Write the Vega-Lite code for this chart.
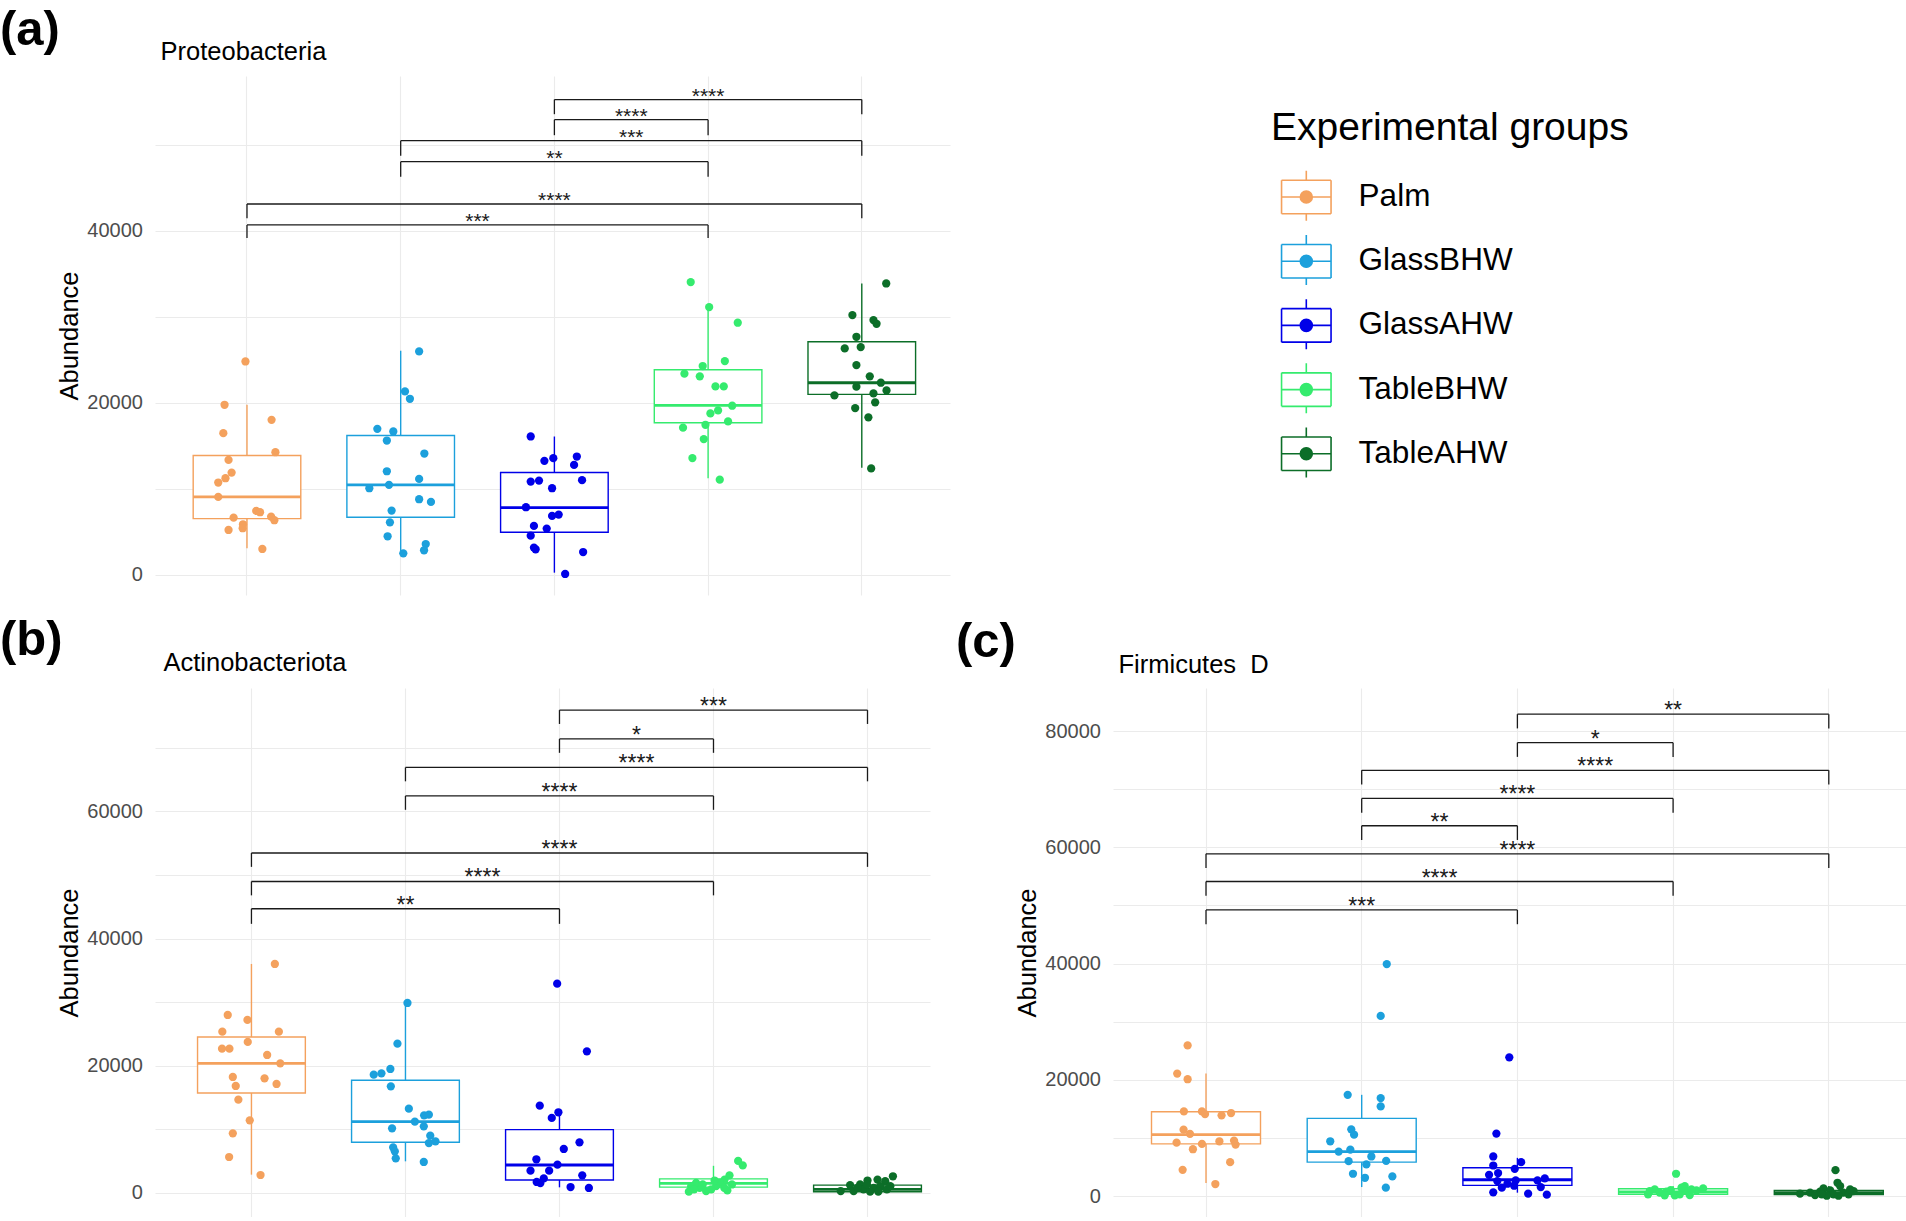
{
  "$schema": "https://vega.github.io/schema/vega-lite/v6.json",
  "background": "white",
  "padding": {"left": 0, "top": 5, "right": 0, "bottom": 0},
  "config": {
    "font": "Liberation Sans",
    "view": {"stroke": null},
    "axis": {"grid": true, "gridColor": "#EBEBEB", "gridWidth": 1.1, "domain": false, "ticks": false},
    "axisX": {"labels": false, "bandPosition": 0.5, "titleAnchor": "start", "titleAlign": "left", "titleBaseline": "alphabetic", "titleFontSize": 25.5, "titleFontWeight": "normal", "titleColor": "#000000"},
    "axisY": {"labelFontSize": 20, "labelColor": "#4D4D4D", "labelPadding": 12.6, "titleFontSize": 25.5, "titleFontWeight": "normal", "titleColor": "#000000", "titlePadding": 9, "titleBaseline": "alphabetic"},
    "title": {"anchor": "start", "frame": "group", "fontSize": 49, "fontWeight": "bold", "color": "#000000", "baseline": "alphabetic", "offset": -15}
  },
  "datasets": {
    "boxA": [
      {"group": "Palm", "lo": 3100, "q1": 6550, "med": 9070, "q3": 13876, "hi": 19768},
      {"group": "GlassBHW", "lo": 2519, "q1": 6705, "med": 10465, "q3": 16202, "hi": 26047},
      {"group": "GlassAHW", "lo": 271, "q1": 4961, "med": 7830, "q3": 11900, "hi": 16085},
      {"group": "TableBHW", "lo": 11223, "q1": 17686, "med": 19698, "q3": 23839, "hi": 31154},
      {"group": "TableAHW", "lo": 12461, "q1": 20975, "med": 22330, "q3": 27090, "hi": 33863}
    ],
    "boxB": [
      {"group": "Palm", "lo": 2883, "q1": 15726, "med": 20392, "q3": 24533, "hi": 36013},
      {"group": "GlassBHW", "lo": 4980, "q1": 7968, "med": 11218, "q3": 17718, "hi": 29879},
      {"group": "GlassAHW", "lo": 891, "q1": 2044, "med": 4403, "q3": 9960, "hi": 13210},
      {"group": "TableBHW", "lo": 100, "q1": 927, "med": 1500, "q3": 2215, "hi": 4275},
      {"group": "TableAHW", "lo": 100, "q1": 206, "med": 566, "q3": 1236, "hi": 2369}
    ],
    "boxC": [
      {"group": "Palm", "lo": 2227, "q1": 8965, "med": 10564, "q3": 14503, "hi": 21070},
      {"group": "GlassBHW", "lo": 1542, "q1": 5824, "med": 7651, "q3": 13361, "hi": 17416},
      {"group": "GlassAHW", "lo": 571, "q1": 1827, "med": 2798, "q3": 4854, "hi": 6567},
      {"group": "TableBHW", "lo": 0, "q1": 300, "med": 700, "q3": 1256, "hi": 1713},
      {"group": "TableAHW", "lo": 50, "q1": 250, "med": 571, "q3": 971, "hi": 1713}
    ],
    "ptsA": [
      {"group": "Palm", "abundance": 24800, "jitter": -0.01},
      {"group": "Palm", "abundance": 19770, "jitter": -0.146},
      {"group": "Palm", "abundance": 18020, "jitter": 0.16},
      {"group": "Palm", "abundance": 16470, "jitter": -0.154},
      {"group": "Palm", "abundance": 14260, "jitter": 0.185},
      {"group": "Palm", "abundance": 13370, "jitter": -0.12},
      {"group": "Palm", "abundance": 11900, "jitter": -0.1},
      {"group": "Palm", "abundance": 11240, "jitter": -0.14},
      {"group": "Palm", "abundance": 10740, "jitter": -0.187},
      {"group": "Palm", "abundance": 9070, "jitter": -0.187},
      {"group": "Palm", "abundance": 7440, "jitter": 0.06},
      {"group": "Palm", "abundance": 7290, "jitter": 0.085},
      {"group": "Palm", "abundance": 6670, "jitter": -0.087},
      {"group": "Palm", "abundance": 6780, "jitter": 0.157},
      {"group": "Palm", "abundance": 6360, "jitter": 0.178},
      {"group": "Palm", "abundance": 5890, "jitter": -0.026},
      {"group": "Palm", "abundance": 5430, "jitter": -0.028},
      {"group": "Palm", "abundance": 5230, "jitter": -0.12},
      {"group": "Palm", "abundance": 3020, "jitter": 0.1},
      {"group": "GlassBHW", "abundance": 25970, "jitter": 0.12},
      {"group": "GlassBHW", "abundance": 21320, "jitter": 0.028},
      {"group": "GlassBHW", "abundance": 20470, "jitter": 0.06},
      {"group": "GlassBHW", "abundance": 16980, "jitter": -0.152},
      {"group": "GlassBHW", "abundance": 16670, "jitter": -0.048},
      {"group": "GlassBHW", "abundance": 15620, "jitter": -0.09},
      {"group": "GlassBHW", "abundance": 14110, "jitter": 0.154},
      {"group": "GlassBHW", "abundance": 12050, "jitter": -0.09},
      {"group": "GlassBHW", "abundance": 11160, "jitter": 0.12},
      {"group": "GlassBHW", "abundance": 10470, "jitter": -0.076},
      {"group": "GlassBHW", "abundance": 10080, "jitter": -0.204},
      {"group": "GlassBHW", "abundance": 8800, "jitter": 0.12},
      {"group": "GlassBHW", "abundance": 8490, "jitter": 0.197},
      {"group": "GlassBHW", "abundance": 7480, "jitter": -0.059},
      {"group": "GlassBHW", "abundance": 6120, "jitter": -0.07},
      {"group": "GlassBHW", "abundance": 4500, "jitter": -0.085},
      {"group": "GlassBHW", "abundance": 3600, "jitter": 0.163},
      {"group": "GlassBHW", "abundance": 2870, "jitter": 0.152},
      {"group": "GlassBHW", "abundance": 2520, "jitter": 0.017},
      {"group": "GlassAHW", "abundance": 16090, "jitter": -0.154},
      {"group": "GlassAHW", "abundance": 13260, "jitter": -0.065},
      {"group": "GlassAHW", "abundance": 13570, "jitter": -0.007},
      {"group": "GlassAHW", "abundance": 13760, "jitter": 0.146},
      {"group": "GlassAHW", "abundance": 12790, "jitter": 0.128},
      {"group": "GlassAHW", "abundance": 10850, "jitter": -0.154},
      {"group": "GlassAHW", "abundance": 10970, "jitter": -0.1},
      {"group": "GlassAHW", "abundance": 11010, "jitter": 0.18},
      {"group": "GlassAHW", "abundance": 10080, "jitter": -0.015},
      {"group": "GlassAHW", "abundance": 7870, "jitter": -0.185},
      {"group": "GlassAHW", "abundance": 6860, "jitter": -0.015},
      {"group": "GlassAHW", "abundance": 7020, "jitter": 0.028},
      {"group": "GlassAHW", "abundance": 5700, "jitter": -0.133},
      {"group": "GlassAHW", "abundance": 5390, "jitter": -0.05},
      {"group": "GlassAHW", "abundance": 4570, "jitter": -0.154},
      {"group": "GlassAHW", "abundance": 3180, "jitter": -0.133},
      {"group": "GlassAHW", "abundance": 2990, "jitter": -0.122},
      {"group": "GlassAHW", "abundance": 2670, "jitter": 0.187},
      {"group": "GlassAHW", "abundance": 120, "jitter": 0.07},
      {"group": "TableBHW", "abundance": 34020, "jitter": -0.113},
      {"group": "TableBHW", "abundance": 31120, "jitter": 0.007},
      {"group": "TableBHW", "abundance": 29300, "jitter": 0.193},
      {"group": "TableBHW", "abundance": 24850, "jitter": 0.109},
      {"group": "TableBHW", "abundance": 24270, "jitter": -0.035},
      {"group": "TableBHW", "abundance": 23380, "jitter": -0.154},
      {"group": "TableBHW", "abundance": 23070, "jitter": -0.054},
      {"group": "TableBHW", "abundance": 21900, "jitter": 0.048},
      {"group": "TableBHW", "abundance": 21900, "jitter": 0.102},
      {"group": "TableBHW", "abundance": 19660, "jitter": 0.157},
      {"group": "TableBHW", "abundance": 19120, "jitter": 0.065},
      {"group": "TableBHW", "abundance": 18770, "jitter": 0.015},
      {"group": "TableBHW", "abundance": 17840, "jitter": 0.13},
      {"group": "TableBHW", "abundance": 17450, "jitter": -0.017},
      {"group": "TableBHW", "abundance": 17110, "jitter": -0.163},
      {"group": "TableBHW", "abundance": 15790, "jitter": -0.028},
      {"group": "TableBHW", "abundance": 13580, "jitter": -0.102},
      {"group": "TableBHW", "abundance": 11070, "jitter": 0.076},
      {"group": "TableAHW", "abundance": 33860, "jitter": 0.159},
      {"group": "TableAHW", "abundance": 30190, "jitter": -0.061},
      {"group": "TableAHW", "abundance": 29610, "jitter": 0.076},
      {"group": "TableAHW", "abundance": 29180, "jitter": 0.096},
      {"group": "TableAHW", "abundance": 27670, "jitter": -0.035},
      {"group": "TableAHW", "abundance": 26320, "jitter": -0.111},
      {"group": "TableAHW", "abundance": 26470, "jitter": -0.007},
      {"group": "TableAHW", "abundance": 24380, "jitter": -0.035},
      {"group": "TableAHW", "abundance": 23070, "jitter": 0.052},
      {"group": "TableAHW", "abundance": 22330, "jitter": 0.124},
      {"group": "TableAHW", "abundance": 21870, "jitter": -0.035},
      {"group": "TableAHW", "abundance": 21440, "jitter": 0.161},
      {"group": "TableAHW", "abundance": 21090, "jitter": 0.076},
      {"group": "TableAHW", "abundance": 20860, "jitter": -0.178},
      {"group": "TableAHW", "abundance": 20050, "jitter": 0.087},
      {"group": "TableAHW", "abundance": 19390, "jitter": -0.043},
      {"group": "TableAHW", "abundance": 18310, "jitter": 0.043},
      {"group": "TableAHW", "abundance": 12380, "jitter": 0.061}
    ],
    "ptsB": [
      {"group": "Palm", "abundance": 36010, "jitter": 0.152},
      {"group": "Palm", "abundance": 27990, "jitter": -0.154},
      {"group": "Palm", "abundance": 27210, "jitter": -0.026},
      {"group": "Palm", "abundance": 25370, "jitter": -0.189},
      {"group": "Palm", "abundance": 25370, "jitter": 0.178},
      {"group": "Palm", "abundance": 23750, "jitter": -0.024},
      {"group": "Palm", "abundance": 22700, "jitter": -0.191},
      {"group": "Palm", "abundance": 22700, "jitter": -0.143},
      {"group": "Palm", "abundance": 21700, "jitter": 0.102},
      {"group": "Palm", "abundance": 20390, "jitter": 0.187},
      {"group": "Palm", "abundance": 18240, "jitter": -0.121},
      {"group": "Palm", "abundance": 18030, "jitter": 0.085},
      {"group": "Palm", "abundance": 16830, "jitter": -0.102},
      {"group": "Palm", "abundance": 17140, "jitter": 0.163},
      {"group": "Palm", "abundance": 14680, "jitter": -0.085},
      {"group": "Palm", "abundance": 11430, "jitter": -0.011},
      {"group": "Palm", "abundance": 9380, "jitter": -0.121},
      {"group": "Palm", "abundance": 5660, "jitter": -0.145},
      {"group": "Palm", "abundance": 2830, "jitter": 0.059},
      {"group": "GlassBHW", "abundance": 29880, "jitter": 0.013},
      {"group": "GlassBHW", "abundance": 23480, "jitter": -0.052},
      {"group": "GlassBHW", "abundance": 19500, "jitter": -0.098},
      {"group": "GlassBHW", "abundance": 18610, "jitter": -0.206},
      {"group": "GlassBHW", "abundance": 18820, "jitter": -0.156},
      {"group": "GlassBHW", "abundance": 16770, "jitter": -0.095},
      {"group": "GlassBHW", "abundance": 13260, "jitter": 0.022},
      {"group": "GlassBHW", "abundance": 12210, "jitter": 0.121},
      {"group": "GlassBHW", "abundance": 12320, "jitter": 0.152},
      {"group": "GlassBHW", "abundance": 11220, "jitter": 0.061},
      {"group": "GlassBHW", "abundance": 10480, "jitter": 0.119},
      {"group": "GlassBHW", "abundance": 10170, "jitter": -0.087},
      {"group": "GlassBHW", "abundance": 9020, "jitter": 0.161},
      {"group": "GlassBHW", "abundance": 7860, "jitter": 0.152},
      {"group": "GlassBHW", "abundance": 8130, "jitter": 0.195},
      {"group": "GlassBHW", "abundance": 7180, "jitter": -0.08},
      {"group": "GlassBHW", "abundance": 6550, "jitter": -0.069},
      {"group": "GlassBHW", "abundance": 5450, "jitter": -0.063},
      {"group": "GlassBHW", "abundance": 4880, "jitter": 0.119},
      {"group": "GlassAHW", "abundance": 32920, "jitter": -0.015},
      {"group": "GlassAHW", "abundance": 22280, "jitter": 0.178},
      {"group": "GlassAHW", "abundance": 13730, "jitter": -0.128},
      {"group": "GlassAHW", "abundance": 12690, "jitter": -0.007},
      {"group": "GlassAHW", "abundance": 11800, "jitter": -0.05},
      {"group": "GlassAHW", "abundance": 7970, "jitter": 0.13},
      {"group": "GlassAHW", "abundance": 6920, "jitter": 0.028},
      {"group": "GlassAHW", "abundance": 5300, "jitter": -0.15},
      {"group": "GlassAHW", "abundance": 4460, "jitter": -0.013},
      {"group": "GlassAHW", "abundance": 3510, "jitter": -0.188},
      {"group": "GlassAHW", "abundance": 3510, "jitter": -0.067},
      {"group": "GlassAHW", "abundance": 2780, "jitter": 0.148},
      {"group": "GlassAHW", "abundance": 2310, "jitter": -0.102},
      {"group": "GlassAHW", "abundance": 1730, "jitter": -0.148},
      {"group": "GlassAHW", "abundance": 1570, "jitter": -0.124},
      {"group": "GlassAHW", "abundance": 940, "jitter": 0.072},
      {"group": "GlassAHW", "abundance": 790, "jitter": 0.191},
      {"group": "TableBHW", "abundance": 5050, "jitter": 0.16},
      {"group": "TableBHW", "abundance": 4330, "jitter": 0.19},
      {"group": "TableBHW", "abundance": 2780, "jitter": 0.104},
      {"group": "TableBHW", "abundance": 2110, "jitter": 0.072},
      {"group": "TableBHW", "abundance": 1600, "jitter": 0.04},
      {"group": "TableBHW", "abundance": 1080, "jitter": 0.017},
      {"group": "TableBHW", "abundance": 570, "jitter": -0.015},
      {"group": "TableBHW", "abundance": 310, "jitter": -0.048},
      {"group": "TableBHW", "abundance": 820, "jitter": -0.09},
      {"group": "TableBHW", "abundance": 1600, "jitter": -0.113},
      {"group": "TableBHW", "abundance": 1080, "jitter": -0.145},
      {"group": "TableBHW", "abundance": 210, "jitter": -0.16},
      {"group": "TableBHW", "abundance": 410, "jitter": 0.09},
      {"group": "TableBHW", "abundance": 820, "jitter": 0.07},
      {"group": "TableBHW", "abundance": 1340, "jitter": 0.12},
      {"group": "TableBHW", "abundance": 1340, "jitter": -0.07},
      {"group": "TableBHW", "abundance": 1960, "jitter": 0.007},
      {"group": "TableBHW", "abundance": 570, "jitter": -0.126},
      {"group": "TableAHW", "abundance": 2630, "jitter": 0.165},
      {"group": "TableAHW", "abundance": 1850, "jitter": 0.115},
      {"group": "TableAHW", "abundance": 2110, "jitter": 0.065},
      {"group": "TableAHW", "abundance": 1960, "jitter": 0.0},
      {"group": "TableAHW", "abundance": 1340, "jitter": -0.048},
      {"group": "TableAHW", "abundance": 1240, "jitter": -0.113},
      {"group": "TableAHW", "abundance": 310, "jitter": -0.174},
      {"group": "TableAHW", "abundance": 310, "jitter": -0.09},
      {"group": "TableAHW", "abundance": 570, "jitter": -0.026},
      {"group": "TableAHW", "abundance": 820, "jitter": 0.04},
      {"group": "TableAHW", "abundance": 1080, "jitter": 0.083},
      {"group": "TableAHW", "abundance": 570, "jitter": 0.126},
      {"group": "TableAHW", "abundance": 1080, "jitter": 0.148},
      {"group": "TableAHW", "abundance": 210, "jitter": 0.017},
      {"group": "TableAHW", "abundance": 210, "jitter": 0.07},
      {"group": "TableAHW", "abundance": 820, "jitter": -0.065},
      {"group": "TableAHW", "abundance": 1340, "jitter": -0.004}
    ],
    "ptsC": [
      {"group": "Palm", "abundance": 25920, "jitter": -0.118},
      {"group": "Palm", "abundance": 21070, "jitter": -0.185},
      {"group": "Palm", "abundance": 20100, "jitter": -0.118},
      {"group": "Palm", "abundance": 14560, "jitter": -0.142},
      {"group": "Palm", "abundance": 14560, "jitter": -0.026},
      {"group": "Palm", "abundance": 14100, "jitter": -0.006},
      {"group": "Palm", "abundance": 13880, "jitter": 0.1},
      {"group": "Palm", "abundance": 14280, "jitter": 0.161},
      {"group": "Palm", "abundance": 11420, "jitter": -0.144},
      {"group": "Palm", "abundance": 10680, "jitter": -0.103},
      {"group": "Palm", "abundance": 9190, "jitter": -0.189},
      {"group": "Palm", "abundance": 8970, "jitter": -0.026},
      {"group": "Palm", "abundance": 9420, "jitter": 0.086},
      {"group": "Palm", "abundance": 9540, "jitter": 0.18},
      {"group": "Palm", "abundance": 8850, "jitter": 0.19},
      {"group": "Palm", "abundance": 8050, "jitter": -0.084},
      {"group": "Palm", "abundance": 5820, "jitter": 0.155},
      {"group": "Palm", "abundance": 4510, "jitter": -0.15},
      {"group": "Palm", "abundance": 2060, "jitter": 0.06},
      {"group": "GlassBHW", "abundance": 39910, "jitter": 0.161},
      {"group": "GlassBHW", "abundance": 31000, "jitter": 0.122},
      {"group": "GlassBHW", "abundance": 17420, "jitter": -0.09},
      {"group": "GlassBHW", "abundance": 16850, "jitter": 0.122},
      {"group": "GlassBHW", "abundance": 15420, "jitter": 0.122},
      {"group": "GlassBHW", "abundance": 11480, "jitter": -0.067},
      {"group": "GlassBHW", "abundance": 10560, "jitter": -0.049},
      {"group": "GlassBHW", "abundance": 9420, "jitter": -0.202},
      {"group": "GlassBHW", "abundance": 7990, "jitter": -0.073},
      {"group": "GlassBHW", "abundance": 7650, "jitter": -0.148},
      {"group": "GlassBHW", "abundance": 6800, "jitter": 0.062},
      {"group": "GlassBHW", "abundance": 6000, "jitter": -0.084},
      {"group": "GlassBHW", "abundance": 6050, "jitter": 0.157},
      {"group": "GlassBHW", "abundance": 5430, "jitter": 0.03},
      {"group": "GlassBHW", "abundance": 3830, "jitter": -0.056},
      {"group": "GlassBHW", "abundance": 3140, "jitter": 0.021},
      {"group": "GlassBHW", "abundance": 3370, "jitter": 0.197},
      {"group": "GlassBHW", "abundance": 1430, "jitter": 0.155},
      {"group": "GlassAHW", "abundance": 23870, "jitter": -0.052},
      {"group": "GlassAHW", "abundance": 10740, "jitter": -0.135},
      {"group": "GlassAHW", "abundance": 6800, "jitter": -0.155},
      {"group": "GlassAHW", "abundance": 5820, "jitter": 0.024},
      {"group": "GlassAHW", "abundance": 4680, "jitter": -0.017},
      {"group": "GlassAHW", "abundance": 5250, "jitter": -0.155},
      {"group": "GlassAHW", "abundance": 3650, "jitter": -0.182},
      {"group": "GlassAHW", "abundance": 3940, "jitter": -0.124},
      {"group": "GlassAHW", "abundance": 2570, "jitter": -0.129},
      {"group": "GlassAHW", "abundance": 2680, "jitter": 0.129},
      {"group": "GlassAHW", "abundance": 3030, "jitter": 0.176},
      {"group": "GlassAHW", "abundance": 2110, "jitter": -0.064},
      {"group": "GlassAHW", "abundance": 2680, "jitter": -0.011},
      {"group": "GlassAHW", "abundance": 1770, "jitter": -0.021},
      {"group": "GlassAHW", "abundance": 1430, "jitter": -0.1},
      {"group": "GlassAHW", "abundance": 1540, "jitter": 0.15},
      {"group": "GlassAHW", "abundance": 630, "jitter": -0.155},
      {"group": "GlassAHW", "abundance": 400, "jitter": 0.069},
      {"group": "GlassAHW", "abundance": 230, "jitter": 0.189},
      {"group": "TableBHW", "abundance": 3830, "jitter": 0.019},
      {"group": "TableBHW", "abundance": 290, "jitter": -0.161},
      {"group": "TableBHW", "abundance": 1140, "jitter": -0.118},
      {"group": "TableBHW", "abundance": 570, "jitter": -0.086},
      {"group": "TableBHW", "abundance": 740, "jitter": -0.043},
      {"group": "TableBHW", "abundance": 1030, "jitter": -0.015},
      {"group": "TableBHW", "abundance": 290, "jitter": 0.043},
      {"group": "TableBHW", "abundance": 1710, "jitter": 0.075},
      {"group": "TableBHW", "abundance": 860, "jitter": 0.086},
      {"group": "TableBHW", "abundance": 170, "jitter": 0.107},
      {"group": "TableBHW", "abundance": 970, "jitter": 0.15},
      {"group": "TableBHW", "abundance": 1310, "jitter": 0.193},
      {"group": "TableBHW", "abundance": 860, "jitter": -0.15},
      {"group": "TableBHW", "abundance": 100, "jitter": 0.011},
      {"group": "TableBHW", "abundance": 110, "jitter": -0.054},
      {"group": "TableBHW", "abundance": 1140, "jitter": 0.118},
      {"group": "TableBHW", "abundance": 1430, "jitter": 0.054},
      {"group": "TableAHW", "abundance": 4450, "jitter": 0.043},
      {"group": "TableAHW", "abundance": 2280, "jitter": 0.056},
      {"group": "TableAHW", "abundance": 1710, "jitter": 0.073},
      {"group": "TableAHW", "abundance": 1310, "jitter": -0.034},
      {"group": "TableAHW", "abundance": 970, "jitter": 0.009},
      {"group": "TableAHW", "abundance": 740, "jitter": -0.056},
      {"group": "TableAHW", "abundance": 400, "jitter": -0.185},
      {"group": "TableAHW", "abundance": 570, "jitter": -0.12},
      {"group": "TableAHW", "abundance": 170, "jitter": -0.088},
      {"group": "TableAHW", "abundance": 290, "jitter": 0.03},
      {"group": "TableAHW", "abundance": 570, "jitter": 0.094},
      {"group": "TableAHW", "abundance": 290, "jitter": 0.127},
      {"group": "TableAHW", "abundance": 860, "jitter": 0.159},
      {"group": "TableAHW", "abundance": 50, "jitter": 0.062},
      {"group": "TableAHW", "abundance": 50, "jitter": -0.013},
      {"group": "TableAHW", "abundance": 1140, "jitter": 0.137},
      {"group": "TableAHW", "abundance": 290, "jitter": -0.045}
    ],
    "sigA": [
      {"g1": "GlassAHW", "g2": "TableAHW", "mid": 4, "y": 55220, "tip": 53520, "label": "****"},
      {"g1": "GlassAHW", "g2": "TableBHW", "mid": 3.5, "y": 52880, "tip": 51080, "label": "****"},
      {"g1": "GlassBHW", "g2": "TableAHW", "mid": 3.5, "y": 50440, "tip": 48700, "label": "***"},
      {"g1": "GlassBHW", "g2": "TableBHW", "mid": 3, "y": 48010, "tip": 46260, "label": "**"},
      {"g1": "Palm", "g2": "TableAHW", "mid": 3, "y": 43090, "tip": 41440, "label": "****"},
      {"g1": "Palm", "g2": "TableBHW", "mid": 2.5, "y": 40660, "tip": 39140, "label": "***"}
    ],
    "sigB": [
      {"g1": "GlassAHW", "g2": "TableAHW", "mid": 4, "y": 75930, "tip": 73750, "label": "***"},
      {"g1": "GlassAHW", "g2": "TableBHW", "mid": 3.5, "y": 71390, "tip": 69210, "label": "*"},
      {"g1": "GlassBHW", "g2": "TableAHW", "mid": 3.5, "y": 66910, "tip": 64730, "label": "****"},
      {"g1": "GlassBHW", "g2": "TableBHW", "mid": 3, "y": 62430, "tip": 60250, "label": "****"},
      {"g1": "Palm", "g2": "TableAHW", "mid": 3, "y": 53460, "tip": 51280, "label": "****"},
      {"g1": "Palm", "g2": "TableBHW", "mid": 2.5, "y": 48980, "tip": 46800, "label": "****"},
      {"g1": "Palm", "g2": "GlassAHW", "mid": 2, "y": 44690, "tip": 42320, "label": "**"}
    ],
    "sigC": [
      {"g1": "GlassAHW", "g2": "TableAHW", "mid": 4, "y": 82930, "tip": 80480, "label": "**"},
      {"g1": "GlassAHW", "g2": "TableBHW", "mid": 3.5, "y": 78030, "tip": 75580, "label": "*"},
      {"g1": "GlassBHW", "g2": "TableAHW", "mid": 3.5, "y": 73260, "tip": 70810, "label": "****"},
      {"g1": "GlassBHW", "g2": "TableBHW", "mid": 3, "y": 68430, "tip": 65980, "label": "****"},
      {"g1": "GlassBHW", "g2": "GlassAHW", "mid": 2.5, "y": 63730, "tip": 61280, "label": "**"},
      {"g1": "Palm", "g2": "TableAHW", "mid": 3, "y": 58900, "tip": 56450, "label": "****"},
      {"g1": "Palm", "g2": "TableBHW", "mid": 2.5, "y": 54130, "tip": 51680, "label": "****"},
      {"g1": "Palm", "g2": "GlassAHW", "mid": 2, "y": 49230, "tip": 46780, "label": "***"}
    ]
  },
  "bounds": "flush",
  "spacing": 93,
  "resolve": {"scale": {"color": "independent", "xOffset": "independent"}, "legend": {"color": "independent"}},
  "vconcat": [
    {
      "width": 795,
      "height": 519,
      "title": {"text": "(a)", "dx": -155},
      "resolve": {"scale": {"x": "independent"}},
      "layer": [
        {
          "layer": [
            {
              "data": {"name": "boxA"},
              "mark": {"type": "rule", "strokeWidth": 1.4},
              "encoding": {
                "x": {"field": "group", "type": "nominal", "scale": {"domain": ["Palm", "GlassBHW", "GlassAHW", "TableBHW", "TableAHW"], "paddingInner": 0.3, "paddingOuter": 0.2362, "align": 0.526}, "axis": {"orient": "top", "title": "Proteobacteria", "titleX": 5, "titlePadding": 16.5}},
                "y": {"field": "lo", "type": "quantitative", "scale": {"domain": [-2323, 57956], "nice": false, "zero": false}, "axis": {"title": "Abundance", "values": [0, 10000, 20000, 30000, 40000, 50000], "format": "d", "labelExpr": "datum.value % 20000 === 0 ? datum.label : ''"}},
                "y2": {"field": "hi"},
                "stroke": {"field": "group", "type": "nominal", "scale": {"domain": ["Palm", "GlassBHW", "GlassAHW", "TableBHW", "TableAHW"], "range": ["#F4A15D", "#1CA0DC", "#0000E8", "#35EB6E", "#0C6E28"]}, "legend": null}
              }
            },
            {
              "data": {"name": "boxA"},
              "mark": {"type": "bar", "fill": "white", "strokeWidth": 1.4, "width": 107.6},
              "encoding": {
                "x": {"field": "group", "type": "nominal", "scale": {"domain": ["Palm", "GlassBHW", "GlassAHW", "TableBHW", "TableAHW"], "paddingInner": 0.3, "paddingOuter": 0.2362, "align": 0.526}},
                "y": {"field": "q1", "type": "quantitative", "scale": {"domain": [-2323, 57956], "nice": false, "zero": false}},
                "y2": {"field": "q3"},
                "stroke": {"field": "group", "type": "nominal", "scale": {"domain": ["Palm", "GlassBHW", "GlassAHW", "TableBHW", "TableAHW"], "range": ["#F4A15D", "#1CA0DC", "#0000E8", "#35EB6E", "#0C6E28"]}, "legend": null}
              }
            },
            {
              "data": {"name": "boxA"},
              "mark": {"type": "tick", "size": 107.6, "thickness": 2.8, "opacity": 1},
              "encoding": {
                "x": {"field": "group", "type": "nominal", "scale": {"domain": ["Palm", "GlassBHW", "GlassAHW", "TableBHW", "TableAHW"], "paddingInner": 0.3, "paddingOuter": 0.2362, "align": 0.526}},
                "y": {"field": "med", "type": "quantitative", "scale": {"domain": [-2323, 57956], "nice": false, "zero": false}},
                "fill": {"field": "group", "type": "nominal", "scale": {"domain": ["Palm", "GlassBHW", "GlassAHW", "TableBHW", "TableAHW"], "range": ["#F4A15D", "#1CA0DC", "#0000E8", "#35EB6E", "#0C6E28"]}, "legend": null}
              }
            },
            {
              "data": {"name": "ptsA"},
              "mark": {"type": "circle", "size": 68, "opacity": 1},
              "encoding": {
                "x": {"field": "group", "type": "nominal", "scale": {"domain": ["Palm", "GlassBHW", "GlassAHW", "TableBHW", "TableAHW"], "paddingInner": 0.3, "paddingOuter": 0.2362, "align": 0.526}},
                "xOffset": {"field": "jitter", "type": "quantitative", "scale": {"domain": [-0.35, 0.35]}},
                "y": {"field": "abundance", "type": "quantitative", "scale": {"domain": [-2323, 57956], "nice": false, "zero": false}},
                "color": {
                  "field": "group", "type": "nominal",
                  "scale": {"domain": ["Palm", "GlassBHW", "GlassAHW", "TableBHW", "TableAHW"], "range": ["#F4A15D", "#1CA0DC", "#0000E8", "#35EB6E", "#0C6E28"]},
                  "legend": {
                    "orient": "none", "legendX": 1116, "legendY": 33.2, "padding": 0,
                    "title": "Experimental groups", "titleFontSize": 39, "titleFontWeight": "normal", "titleColor": "#000000", "titlePadding": 22.8, "titleLimit": 800,
                    "labelFontSize": 31.5, "labelColor": "#000000", "labelOffset": 26.3, "labelLimit": 500,
                    "symbolType": "M-0.99,-0.67L0.99,-0.67M0.99,-0.67L0.99,0.67M0.99,0.67L-0.99,0.67M-0.99,0.67L-0.99,-0.67M-0.99,0L0.99,0M0,-0.67L0,-1.05M0,0.67L0,0.95M0.24,0A0.24,0.24,0,1,1,-0.24,0A0.24,0.24,0,1,1,0.24,0Z",
                    "symbolSize": 2500, "symbolStrokeWidth": 1.6, "symbolOffset": 9.3, "rowPadding": 7.2, "symbolOpacity": 1,
                    "encode": {"symbols": {"update": {
                      "fill": {"signal": "datum.value === 'Palm' ? '#F4A15D' : datum.value === 'GlassBHW' ? '#1CA0DC' : datum.value === 'GlassAHW' ? '#0000E8' : datum.value === 'TableBHW' ? '#35EB6E' : '#0C6E28'"},
                      "stroke": {"signal": "datum.value === 'Palm' ? '#F4A15D' : datum.value === 'GlassBHW' ? '#1CA0DC' : datum.value === 'GlassAHW' ? '#0000E8' : datum.value === 'TableBHW' ? '#35EB6E' : '#0C6E28'"},
                      "fillOpacity": {"value": 1}, "strokeOpacity": {"value": 1}, "opacity": {"value": 1}, "strokeWidth": {"value": 1.6}, "size": {"value": 2500}
                    }}}
                  }
                }
              }
            },
            {
              "data": {"name": "sigA"},
              "mark": {"type": "rule", "color": "#1A1A1A", "strokeWidth": 1.3},
              "encoding": {
                "x": {"field": "g1", "type": "nominal", "bandPosition": 0.5, "scale": {"domain": ["Palm", "GlassBHW", "GlassAHW", "TableBHW", "TableAHW"], "paddingInner": 0.3, "paddingOuter": 0.2362, "align": 0.526}},
                "x2": {"field": "g2", "bandPosition": 0.5},
                "y": {"field": "y", "type": "quantitative", "scale": {"domain": [-2323, 57956], "nice": false, "zero": false}}
              }
            },
            {
              "data": {"name": "sigA"},
              "mark": {"type": "rule", "color": "#1A1A1A", "strokeWidth": 1.3},
              "encoding": {
                "x": {"field": "g1", "type": "nominal", "scale": {"domain": ["Palm", "GlassBHW", "GlassAHW", "TableBHW", "TableAHW"], "paddingInner": 0.3, "paddingOuter": 0.2362, "align": 0.526}},
                "y": {"field": "y", "type": "quantitative", "scale": {"domain": [-2323, 57956], "nice": false, "zero": false}},
                "y2": {"field": "tip"}
              }
            },
            {
              "data": {"name": "sigA"},
              "mark": {"type": "rule", "color": "#1A1A1A", "strokeWidth": 1.3},
              "encoding": {
                "x": {"field": "g2", "type": "nominal", "scale": {"domain": ["Palm", "GlassBHW", "GlassAHW", "TableBHW", "TableAHW"], "paddingInner": 0.3, "paddingOuter": 0.2362, "align": 0.526}},
                "y": {"field": "y", "type": "quantitative", "scale": {"domain": [-2323, 57956], "nice": false, "zero": false}},
                "y2": {"field": "tip"}
              }
            }
          ]
        },
        {
          "data": {"name": "sigA"},
          "mark": {"type": "text", "fontSize": 21, "baseline": "alphabetic", "align": "center", "dy": 3, "color": "#1A1A1A"},
          "encoding": {
            "x": {"field": "mid", "type": "quantitative", "scale": {"domain": [0.4015, 5.5739], "nice": false, "zero": false}, "axis": null},
            "y": {"field": "y", "type": "quantitative", "scale": {"domain": [-2323, 57956], "nice": false, "zero": false}},
            "text": {"field": "label", "type": "nominal"}
          }
        }
      ]
    },
    {
      "bounds": "flush",
      "spacing": 183,
      "resolve": {"scale": {"xOffset": "independent"}},
      "hconcat": [
        {
          "width": 775,
          "height": 529,
          "title": {"text": "(b)", "dx": -155},
          "resolve": {"scale": {"x": "independent"}},
          "layer": [
            {
              "layer": [
                {
                  "data": {"name": "boxB"},
                  "mark": {"type": "rule", "strokeWidth": 1.4},
                  "encoding": {
                    "x": {"field": "group", "type": "nominal", "scale": {"domain": ["Palm", "GlassBHW", "GlassAHW", "TableBHW", "TableAHW"], "paddingInner": 0.3, "paddingOuter": 0.166, "align": 0.832}, "axis": {"orient": "top", "title": "Actinobacteriota", "titleX": 8, "titlePadding": 18}},
                    "y": {"field": "lo", "type": "quantitative", "scale": {"domain": [-3774, 79403], "nice": false, "zero": false}, "axis": {"title": "Abundance", "values": [0, 10000, 20000, 30000, 40000, 50000, 60000, 70000], "format": "d", "labelExpr": "datum.value % 20000 === 0 ? datum.label : ''"}},
                    "y2": {"field": "hi"},
                    "stroke": {"field": "group", "type": "nominal", "scale": {"domain": ["Palm", "GlassBHW", "GlassAHW", "TableBHW", "TableAHW"], "range": ["#F4A15D", "#1CA0DC", "#0000E8", "#35EB6E", "#0C6E28"]}, "legend": null}
                  }
                },
                {
                  "data": {"name": "boxB"},
                  "mark": {"type": "bar", "fill": "white", "strokeWidth": 1.4, "width": 107.8},
                  "encoding": {
                    "x": {"field": "group", "type": "nominal", "scale": {"domain": ["Palm", "GlassBHW", "GlassAHW", "TableBHW", "TableAHW"], "paddingInner": 0.3, "paddingOuter": 0.166, "align": 0.832}},
                    "y": {"field": "q1", "type": "quantitative", "scale": {"domain": [-3774, 79403], "nice": false, "zero": false}},
                    "y2": {"field": "q3"},
                    "stroke": {"field": "group", "type": "nominal", "scale": {"domain": ["Palm", "GlassBHW", "GlassAHW", "TableBHW", "TableAHW"], "range": ["#F4A15D", "#1CA0DC", "#0000E8", "#35EB6E", "#0C6E28"]}, "legend": null}
                  }
                },
                {
                  "data": {"name": "boxB"},
                  "mark": {"type": "tick", "size": 107.8, "thickness": 2.8, "opacity": 1},
                  "encoding": {
                    "x": {"field": "group", "type": "nominal", "scale": {"domain": ["Palm", "GlassBHW", "GlassAHW", "TableBHW", "TableAHW"], "paddingInner": 0.3, "paddingOuter": 0.166, "align": 0.832}},
                    "y": {"field": "med", "type": "quantitative", "scale": {"domain": [-3774, 79403], "nice": false, "zero": false}},
                    "fill": {"field": "group", "type": "nominal", "scale": {"domain": ["Palm", "GlassBHW", "GlassAHW", "TableBHW", "TableAHW"], "range": ["#F4A15D", "#1CA0DC", "#0000E8", "#35EB6E", "#0C6E28"]}, "legend": null}
                  }
                },
                {
                  "data": {"name": "ptsB"},
                  "mark": {"type": "circle", "size": 68, "opacity": 1},
                  "encoding": {
                    "x": {"field": "group", "type": "nominal", "scale": {"domain": ["Palm", "GlassBHW", "GlassAHW", "TableBHW", "TableAHW"], "paddingInner": 0.3, "paddingOuter": 0.166, "align": 0.832}},
                    "xOffset": {"field": "jitter", "type": "quantitative", "scale": {"domain": [-0.35, 0.35]}},
                    "y": {"field": "abundance", "type": "quantitative", "scale": {"domain": [-3774, 79403], "nice": false, "zero": false}},
                    "color": {"field": "group", "type": "nominal", "scale": {"domain": ["Palm", "GlassBHW", "GlassAHW", "TableBHW", "TableAHW"], "range": ["#F4A15D", "#1CA0DC", "#0000E8", "#35EB6E", "#0C6E28"]}, "legend": null}
                  }
                },
                {
                  "data": {"name": "sigB"},
                  "mark": {"type": "rule", "color": "#1A1A1A", "strokeWidth": 1.3},
                  "encoding": {
                    "x": {"field": "g1", "type": "nominal", "bandPosition": 0.5, "scale": {"domain": ["Palm", "GlassBHW", "GlassAHW", "TableBHW", "TableAHW"], "paddingInner": 0.3, "paddingOuter": 0.166, "align": 0.832}},
                    "x2": {"field": "g2", "bandPosition": 0.5},
                    "y": {"field": "y", "type": "quantitative", "scale": {"domain": [-3774, 79403], "nice": false, "zero": false}}
                  }
                },
                {
                  "data": {"name": "sigB"},
                  "mark": {"type": "rule", "color": "#1A1A1A", "strokeWidth": 1.3},
                  "encoding": {
                    "x": {"field": "g1", "type": "nominal", "scale": {"domain": ["Palm", "GlassBHW", "GlassAHW", "TableBHW", "TableAHW"], "paddingInner": 0.3, "paddingOuter": 0.166, "align": 0.832}},
                    "y": {"field": "y", "type": "quantitative", "scale": {"domain": [-3774, 79403], "nice": false, "zero": false}},
                    "y2": {"field": "tip"}
                  }
                },
                {
                  "data": {"name": "sigB"},
                  "mark": {"type": "rule", "color": "#1A1A1A", "strokeWidth": 1.3},
                  "encoding": {
                    "x": {"field": "g2", "type": "nominal", "scale": {"domain": ["Palm", "GlassBHW", "GlassAHW", "TableBHW", "TableAHW"], "paddingInner": 0.3, "paddingOuter": 0.166, "align": 0.832}},
                    "y": {"field": "y", "type": "quantitative", "scale": {"domain": [-3774, 79403], "nice": false, "zero": false}},
                    "y2": {"field": "tip"}
                  }
                }
              ]
            },
            {
              "data": {"name": "sigB"},
              "mark": {"type": "text", "fontSize": 23, "baseline": "alphabetic", "align": "center", "dy": 4, "color": "#1A1A1A"},
              "encoding": {
                "x": {"field": "mid", "type": "quantitative", "scale": {"domain": [0.3738, 5.4058], "nice": false, "zero": false}, "axis": null},
                "y": {"field": "y", "type": "quantitative", "scale": {"domain": [-3774, 79403], "nice": false, "zero": false}},
                "text": {"field": "label", "type": "nominal"}
              }
            }
          ]
        },
        {
          "width": 793,
          "height": 529,
          "title": {"text": "(c)", "dx": -157},
          "resolve": {"scale": {"x": "independent"}},
          "layer": [
            {
              "layer": [
                {
                  "data": {"name": "boxC"},
                  "mark": {"type": "rule", "strokeWidth": 1.4},
                  "encoding": {
                    "x": {"field": "group", "type": "nominal", "scale": {"domain": ["Palm", "GlassBHW", "GlassAHW", "TableBHW", "TableAHW"], "paddingInner": 0.3, "paddingOuter": 0.1966, "align": 0.629}, "axis": {"orient": "top", "title": "Firmicutes \u00a0D", "titleX": 5, "titlePadding": 16}},
                    "y": {"field": "lo", "type": "quantitative", "scale": {"domain": [-3614, 87435], "nice": false, "zero": false}, "axis": {"title": "Abundance", "values": [0, 10000, 20000, 30000, 40000, 50000, 60000, 70000, 80000], "format": "d", "labelExpr": "datum.value % 20000 === 0 ? datum.label : ''"}},
                    "y2": {"field": "hi"},
                    "stroke": {"field": "group", "type": "nominal", "scale": {"domain": ["Palm", "GlassBHW", "GlassAHW", "TableBHW", "TableAHW"], "range": ["#F4A15D", "#1CA0DC", "#0000E8", "#35EB6E", "#0C6E28"]}, "legend": null}
                  }
                },
                {
                  "data": {"name": "boxC"},
                  "mark": {"type": "bar", "fill": "white", "strokeWidth": 1.4, "width": 109},
                  "encoding": {
                    "x": {"field": "group", "type": "nominal", "scale": {"domain": ["Palm", "GlassBHW", "GlassAHW", "TableBHW", "TableAHW"], "paddingInner": 0.3, "paddingOuter": 0.1966, "align": 0.629}},
                    "y": {"field": "q1", "type": "quantitative", "scale": {"domain": [-3614, 87435], "nice": false, "zero": false}},
                    "y2": {"field": "q3"},
                    "stroke": {"field": "group", "type": "nominal", "scale": {"domain": ["Palm", "GlassBHW", "GlassAHW", "TableBHW", "TableAHW"], "range": ["#F4A15D", "#1CA0DC", "#0000E8", "#35EB6E", "#0C6E28"]}, "legend": null}
                  }
                },
                {
                  "data": {"name": "boxC"},
                  "mark": {"type": "tick", "size": 109, "thickness": 2.8, "opacity": 1},
                  "encoding": {
                    "x": {"field": "group", "type": "nominal", "scale": {"domain": ["Palm", "GlassBHW", "GlassAHW", "TableBHW", "TableAHW"], "paddingInner": 0.3, "paddingOuter": 0.1966, "align": 0.629}},
                    "y": {"field": "med", "type": "quantitative", "scale": {"domain": [-3614, 87435], "nice": false, "zero": false}},
                    "fill": {"field": "group", "type": "nominal", "scale": {"domain": ["Palm", "GlassBHW", "GlassAHW", "TableBHW", "TableAHW"], "range": ["#F4A15D", "#1CA0DC", "#0000E8", "#35EB6E", "#0C6E28"]}, "legend": null}
                  }
                },
                {
                  "data": {"name": "ptsC"},
                  "mark": {"type": "circle", "size": 68, "opacity": 1},
                  "encoding": {
                    "x": {"field": "group", "type": "nominal", "scale": {"domain": ["Palm", "GlassBHW", "GlassAHW", "TableBHW", "TableAHW"], "paddingInner": 0.3, "paddingOuter": 0.1966, "align": 0.629}},
                    "xOffset": {"field": "jitter", "type": "quantitative", "scale": {"domain": [-0.35, 0.35]}},
                    "y": {"field": "abundance", "type": "quantitative", "scale": {"domain": [-3614, 87435], "nice": false, "zero": false}},
                    "color": {"field": "group", "type": "nominal", "scale": {"domain": ["Palm", "GlassBHW", "GlassAHW", "TableBHW", "TableAHW"], "range": ["#F4A15D", "#1CA0DC", "#0000E8", "#35EB6E", "#0C6E28"]}, "legend": null}
                  }
                },
                {
                  "data": {"name": "sigC"},
                  "mark": {"type": "rule", "color": "#1A1A1A", "strokeWidth": 1.3},
                  "encoding": {
                    "x": {"field": "g1", "type": "nominal", "bandPosition": 0.5, "scale": {"domain": ["Palm", "GlassBHW", "GlassAHW", "TableBHW", "TableAHW"], "paddingInner": 0.3, "paddingOuter": 0.1966, "align": 0.629}},
                    "x2": {"field": "g2", "bandPosition": 0.5},
                    "y": {"field": "y", "type": "quantitative", "scale": {"domain": [-3614, 87435], "nice": false, "zero": false}}
                  }
                },
                {
                  "data": {"name": "sigC"},
                  "mark": {"type": "rule", "color": "#1A1A1A", "strokeWidth": 1.3},
                  "encoding": {
                    "x": {"field": "g1", "type": "nominal", "scale": {"domain": ["Palm", "GlassBHW", "GlassAHW", "TableBHW", "TableAHW"], "paddingInner": 0.3, "paddingOuter": 0.1966, "align": 0.629}},
                    "y": {"field": "y", "type": "quantitative", "scale": {"domain": [-3614, 87435], "nice": false, "zero": false}},
                    "y2": {"field": "tip"}
                  }
                },
                {
                  "data": {"name": "sigC"},
                  "mark": {"type": "rule", "color": "#1A1A1A", "strokeWidth": 1.3},
                  "encoding": {
                    "x": {"field": "g2", "type": "nominal", "scale": {"domain": ["Palm", "GlassBHW", "GlassAHW", "TableBHW", "TableAHW"], "paddingInner": 0.3, "paddingOuter": 0.1966, "align": 0.629}},
                    "y": {"field": "y", "type": "quantitative", "scale": {"domain": [-3614, 87435], "nice": false, "zero": false}},
                    "y2": {"field": "tip"}
                  }
                }
              ]
            },
            {
              "data": {"name": "sigC"},
              "mark": {"type": "text", "fontSize": 23, "baseline": "alphabetic", "align": "center", "dy": 4, "color": "#1A1A1A"},
              "encoding": {
                "x": {"field": "mid", "type": "quantitative", "scale": {"domain": [0.4027, 5.4959], "nice": false, "zero": false}, "axis": null},
                "y": {"field": "y", "type": "quantitative", "scale": {"domain": [-3614, 87435], "nice": false, "zero": false}},
                "text": {"field": "label", "type": "nominal"}
              }
            }
          ]
        }
      ]
    }
  ]
}
